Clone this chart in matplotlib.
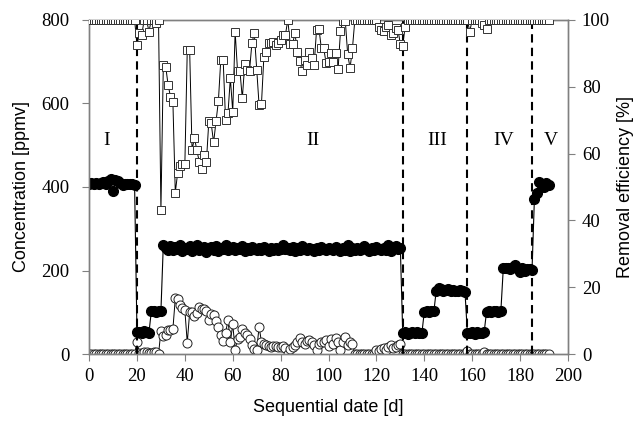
import numpy as np
import matplotlib.pyplot as plt

# inlet concentration (filled circles), ppmv, one value per day 0..192
inlet = [
    408, 410, 407, 409, 406, 410, 412, 408, 415, 418,
    390, 416, 414, 409, 405, 407, 406, 408, 407, 405,
    52, 53, 50, 54, 52, 51, 103, 104, 101, 103, 103,
    262, 255, 250, 258, 248, 256, 252, 260, 247, 254,
    251, 258, 246, 255, 262, 249, 253, 257, 245, 252,
    256, 250, 259, 247, 254, 251, 262, 248, 253, 256,
    249, 255, 252, 258, 246, 253, 250, 257, 251, 248,
    254, 249, 256, 252, 247, 253, 250, 255, 248, 252,
    260, 251, 254, 249, 256, 247, 253, 250, 258, 252,
    249, 255, 251, 246, 254, 250, 257, 252, 248, 255,
    251, 249, 256, 252, 247, 254, 250, 260, 246, 253,
    250, 255, 249, 252, 258, 251, 247, 254, 250, 256,
    252, 248, 255, 250, 262, 247, 253, 258, 251, 255,
    50, 52, 49, 51, 53, 50, 52, 51, 50,
    101, 103, 100, 104, 102,
    152, 158, 155, 150, 153, 156, 151, 154, 152, 150, 153, 151, 149,
    51, 50, 53, 49, 52, 50, 51, 52,
    101, 104, 100, 103, 102, 101, 104,
    205, 207, 206, 204, 208, 212, 203, 197, 206, 198, 204, 203, 201,
    372, 385, 412, 405, 400, 410, 404,
]

# outlet concentration (open circles), ppmv, days 0..192
outlet = [
    0, 0, 0, 0, 0, 0, 0, 0, 0, 0,
    0, 0, 0, 0, 0, 0, 0, 0, 0, 0,
    30, 3, 2, 4, 5, 3, 2, 6, 4, 0,
    55, 43, 45, 57, 58, 60, 133, 131, 117, 110,
    105, 27, 100, 101, 92, 98, 113, 109, 108, 104,
    81, 95, 93, 80, 65, 45, 31, 50, 81, 29,
    71, 10, 37, 41, 59, 50, 45, 36, 22, 12,
    10, 65, 29, 25, 22, 20, 18, 20, 19, 17,
    18, 20, 15, 0, 12, 17, 22, 29, 39, 30,
    25, 32, 34, 28, 22, 10, 25, 30, 28, 34,
    20, 36, 25, 39, 30, 10, 28, 40, 22, 30,
    25, 0, 0, 0, 0, 0, 0, 0, 0, 0,
    10, 8, 12, 14, 10, 18, 21, 15, 18, 22,
    24, 0, 0, 0, 0, 0, 0, 0, 0, 0,
    0, 0, 0, 0, 0, 0, 0, 0, 0, 0,
    0, 0, 0, 0, 0, 0, 0, 0, 8, 0,
    0, 0, 0, 0, 0, 5, 0, 0, 0, 0,
    0, 0, 0, 0, 0, 0, 0, 0, 0, 0,
    0, 0, 0, 0, 0, 0, 0, 0, 0, 0,
    0, 0, 0,
]

# removal efficiency (open squares), %, days 0..192
removal = [
    100, 100, 100, 100, 100, 100, 100, 100, 100, 100,
    100, 100, 100, 100, 100, 100, 100, 100, 100, 100,
    92.5, 96, 95.5, 100, 100, 96.5, 100, 100, 99, 100,
    43, 86.5, 86, 80.5, 77, 75.5, 48.3, 54.3, 56.3, 57,
    56.9, 91, 91, 61, 64.7, 61, 57.6, 55.4, 59.6, 57.6,
    69.6, 69, 63.3, 69.6, 75.7, 88, 88, 70, 72, 82.5,
    72.5, 96.5, 84.7, 84.7, 76.5, 86.8, 85, 84.7, 93, 96,
    85, 74.5, 74.9, 89, 90.5, 93, 93, 93.3, 92.5, 93,
    94, 95.6, 95.5, 100, 92.7, 92.8, 96, 90.3, 87.6, 84.7,
    88, 86.6, 90.5, 88.5, 86.5, 97, 97.4, 91.5, 91.5, 87,
    87.3, 90, 87.4, 90, 85.2, 96.6, 99.8, 99.8, 89.8, 85.5,
    91.5, 100, 100, 100, 100, 100, 100, 100, 100, 100,
    100, 98, 97, 96.6, 98, 98.5, 95.6, 96, 97.5, 97,
    92.8, 92.2, 98, 100, 100, 100, 100, 100, 100, 100,
    100, 100, 100, 100, 100, 100, 100, 100, 100, 100,
    100, 100, 100, 100, 100, 100, 100, 100, 100, 96.5,
    100, 100, 100, 100, 99, 98.5, 97.3, 100, 100, 100,
    100, 100, 100, 100, 100, 100, 100, 100, 100, 100,
    100, 100, 100, 100, 100, 100, 100, 100, 100, 100,
    100, 100, 100,
]

days = np.arange(len(inlet))
phase_bounds = [20, 131, 158, 185]
phase_names = ['I', 'II', 'III', 'IV', 'V']
phase_label_x = [7.5, 93.5, 145.5, 173, 193]

serif = 'Liberation Serif'
sans = 'Liberation Sans'
gray = '#808080'

fig = plt.figure(figsize=(6.41, 4.22), dpi=100)
ax1 = fig.add_axes([0.139, 0.161, 0.747, 0.792])
ax2 = ax1.twinx()

ax1.plot(days, inlet, '-', color='black', lw=0.8, marker='o', ms=7,
         mfc='black', mec='black', zorder=3)
ax1.plot(days, outlet, '-', color='black', lw=0.7, marker='o', ms=6.5,
         mfc='white', mec='#222222', mew=0.7, zorder=2)
ax2.plot(days, removal, '-', color='black', lw=0.7, marker='s', ms=6,
         mfc='white', mec='#333333', mew=0.7, solid_joinstyle='miter', zorder=3)

for b in phase_bounds:
    ax1.plot([b, b], [0, 800], '--', color='black', lw=1.5, dashes=(4, 2.5), zorder=4)

for name, xp in zip(phase_names, phase_label_x):
    ax1.text(xp, 510, name, fontsize=14, family=serif, ha='center', va='center')

ax1.set_xlim(0, 200)
ax1.set_ylim(0, 800)
ax2.set_ylim(0, 100)
ax1.set_xticks(range(0, 201, 20))
ax1.set_yticks(range(0, 801, 200))
ax2.set_yticks(range(0, 101, 20))

for ax in (ax1, ax2):
    for s in ax.spines.values():
        s.set_color(gray)
        s.set_linewidth(1.0)
    ax.tick_params(direction='out', length=5, color=gray, labelsize=13.5)
    ax.tick_params(axis='x', pad=5)
    for lab in ax.get_xticklabels() + ax.get_yticklabels():
        lab.set_family(serif)
ax1.tick_params(axis='y', pad=9)
ax2.tick_params(axis='y', pad=5)

ax1.set_xlabel('Sequential date [d]', fontsize=13, family=sans, labelpad=10)
ax1.set_ylabel('Concentration [ppmv]', fontsize=13, family=sans, labelpad=8)
ax2.set_ylabel('Removal efficiency [%]', fontsize=13, family=sans, labelpad=5)

fig.savefig('out.png', dpi=100)
